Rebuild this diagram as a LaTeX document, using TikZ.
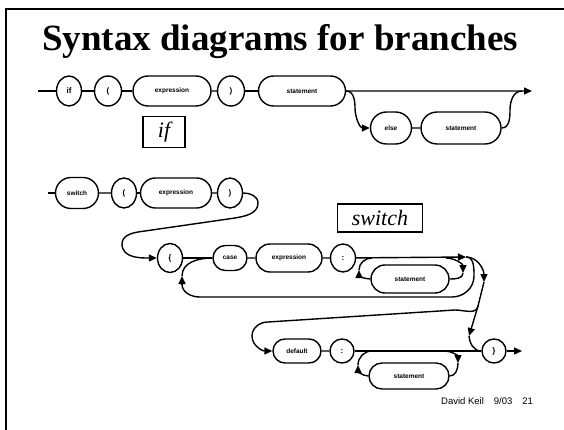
\documentclass[tikz,border=0pt]{standalone}
\usepackage{fontspec}
\setmainfont{Liberation Serif}
\setsansfont{Liberation Sans}
\usetikzlibrary{shapes.geometric,shapes.misc,arrows.meta}
\begin{document}
\begin{tikzpicture}[x=1pt,y=-1pt,
  line width=1.4pt,
  tok/.style={draw,ellipse,inner sep=0pt,minimum width=25pt,minimum height=30pt,font=\fontsize{8}{8}\sffamily\bfseries},
  nt/.style={draw,rounded rectangle,inner sep=1pt,minimum height=30pt,font=\fontsize{6.5}{6.5}\sffamily\bfseries},
  arr/.style={-{Triangle[length=8pt,width=7pt]}},
  lbl/.style={draw,line width=1.2pt,inner sep=0pt,font=\fontsize{22}{22}\selectfont\itshape}]
\useasboundingbox (0,0) rectangle (564,430);
% frame
\draw[line width=2pt] (564,9) -- (6,9) -- (6,430);
% title
\node[anchor=base,font=\fontsize{37}{37}\selectfont\bfseries] (title) at (280,51) {Syntax diagrams for branches};
% ---------- if ----------
\coordinate (s1) at (38,91);
\node[tok] (if) at (69,91) {if};
\node[tok,minimum width=27pt] (lp1) at (108,91) {(};
\node[nt,minimum width=80pt] (ex1) at (172,91) {expression};
\node[tok,minimum width=27pt] (rp1) at (231,91) {)};
\node[nt,minimum width=89pt] (st1) at (302,91) {statement};
\node[nt,minimum width=43pt,minimum height=32pt] (else) at (391,128) {else};
\node[nt,minimum width=82pt,minimum height=32pt] (st2) at (461,128) {statement};
\coordinate (e1) at (532,91);
\coordinate (j1) at (522,91);
\draw (s1) -- (if);
\draw (if) -- (lp1);
\draw (lp1) -- (ex1);
\draw (ex1) -- (rp1);
\draw (rp1) -- (st1);
\draw[arr] (st1) -- (e1);
\draw[arr] (st1.east) to[out=0,in=90] (355,108) to[out=-90,in=180] (else.west);
\draw (else) -- (st2);
\draw (st2.east) to[out=0,in=-90] (510,110) to[out=90,in=180] (j1);
\node[lbl,minimum width=42pt,minimum height=31pt] (iflbl) at (164,132) {if};
% ---------- switch ----------
\coordinate (s2) at (48,193);
\node[nt,minimum width=45pt,minimum height=31pt] (sw) at (77,193) {switch};
\node[tok] (lp2) at (124,193) {(};
\node[nt,minimum width=73pt] (ex2) at (176,193) {expression};
\node[tok] (rp2) at (230,193) {)};
\node[lbl,minimum width=85pt,minimum height=28pt] (swlbl) at (380,218) {switch};
\node[tok,minimum height=29pt] (lb) at (170,258) {\{};
\node[nt,minimum width=36pt,minimum height=25pt] (case) at (230,258) {case};
\node[nt,minimum width=68pt,minimum height=28pt] (ex3) at (289,258) {expression};
\node[tok,minimum height=28pt] (col1) at (343,258) {:};
\node[nt,minimum width=80pt,minimum height=28pt] (st3) at (410,279) {statement};
\draw (s2) -- (sw);
\draw (sw) -- (lp2);
\draw (lp2) -- (ex2);
\draw (ex2) -- (rp2);
\draw[arr] (rp2.east) to[out=0,in=90] (258,203) to[out=-90,in=10] (235,218) -- (138,232) to[out=190,in=90] (122,244) to[out=-90,in=180] (lb.west);
\draw (lb) -- (case);
\draw (case) -- (ex3);
\draw (ex3) -- (col1);
\coordinate (m2) at (466,257);
\draw[arr] (col1) -- (m2);
% inner loop of statements (case)
\coordinate (a3) at (446,258);
\coordinate (t3) at (463,273);
\coordinate (b3) at (372,258);
\coordinate (u3) at (359,270);
\draw[arr] (a3) to[out=0,in=90] (t3);
\draw (t3) to[out=-90,in=0] (st3.east);
\draw[arr] (st3.west) to[out=180,in=-90] (u3);
\draw (u3) to[out=90,in=180] (b3);
% outer loop back to case
\coordinate (u2) at (182,276);
\draw (m2) to[out=0,in=90] (474,276) to[out=-90,in=0] (452,297) -- (200,297) to[out=180,in=-90] (182,284);
\draw[arr] (182,284) -- (u2);
\draw (u2) to[out=90,in=180] (case.west);
% exit path
\coordinate (d2) at (484,282);
\coordinate (sp) at (478,306);
\draw[arr] (m2) to[out=0,in=90] (d2);
\draw (d2) -- (sp);
% ---------- default ----------
\node[nt,minimum width=50pt,minimum height=24pt] (dflt) at (297,351) {default};
\node[tok,minimum width=24pt,minimum height=24pt] (col2) at (342,351) {:};
\node[nt,minimum width=82pt,minimum height=26pt] (st4) at (409,376) {statement};
\node[tok,minimum width=24pt,minimum height=24pt] (rb) at (494,351) {\}};
\coordinate (e2) at (522,351);
\draw[arr] (sp) to[out=-100,in=0] (455,310) -- (268,322) to[out=180,in=90] (252,336) to[out=-90,in=180] (dflt.west);
\coordinate (d3) at (469,336);
\draw[arr] (sp) -- (d3);
\draw (d3) to[out=-85,in=180] (rb.west);
\draw (dflt) -- (col2);
\draw (col2) -- (rb);
\draw[arr] (rb) -- (e2);
\coordinate (a4) at (445,351);
\coordinate (t4) at (458,363);
\coordinate (b4) at (372,351);
\coordinate (u4) at (358,365);
\draw[arr] (a4) to[out=0,in=90] (t4);
\draw (t4) to[out=-90,in=0] (st4.east);
\draw[arr] (st4.west) to[out=180,in=-90] (u4);
\draw (u4) to[out=90,in=180] (b4);
% footer
\node[anchor=base east,font=\fontsize{9.5}{9.5}\sffamily] (foot) at (537,404) {David Keil\hspace{10pt}9/03\hspace{10pt}21};
\end{tikzpicture}
\end{document}
